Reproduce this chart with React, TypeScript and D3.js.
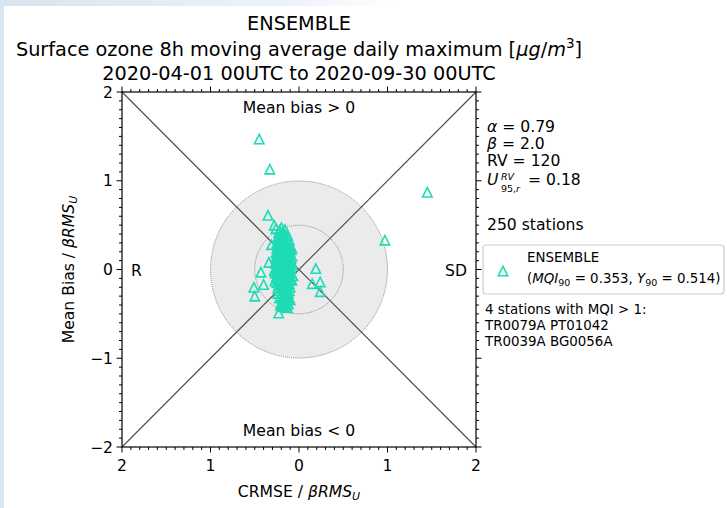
import * as d3 from "d3"

// station points: signed CRMSE / beta RMS_U (x) and mean bias / beta RMS_U (y)
const crmse = [
  -0.45, -0.33, 1.45, 0.97, -0.35, -0.28, -0.26, -0.18, -0.08, -0.31, -0.34, -0.43, -0.51, -0.5, -0.4,
  0.19, 0.15, 0.24, 0.24, -0.23, -0.15, -0.18,
  -0.2, -0.16,
  -0.23, -0.18, -0.13,
  -0.24, -0.19, -0.15, -0.11,
  -0.25, -0.2, -0.16, -0.11,
  -0.25, -0.22, -0.17, -0.12, -0.09,
  -0.26, -0.23, -0.18, -0.14, -0.1,
  -0.26, -0.23, -0.19, -0.16, -0.12, -0.09,
  -0.27, -0.24, -0.2, -0.17, -0.14, -0.1,
  -0.26, -0.23, -0.19, -0.16, -0.12, -0.09,
  -0.27, -0.24, -0.2, -0.17, -0.14, -0.1,
  -0.26, -0.23, -0.19, -0.16, -0.12, -0.1,
  -0.25, -0.21, -0.18, -0.15, -0.11,
  -0.24, -0.2, -0.17, -0.14, -0.1,
  -0.24, -0.19, -0.16, -0.12,
  -0.22, -0.18, -0.15, -0.11,
  -0.2, -0.16, -0.12,
  -0.18, -0.13,
  -0.22, -0.18,
  -0.21, -0.17, -0.13,
  -0.22, -0.18, -0.14,
  -0.24, -0.19, -0.14, -0.1,
  -0.24, -0.2, -0.16, -0.11,
  -0.25, -0.21, -0.17, -0.13, -0.08,
  -0.25, -0.21, -0.18, -0.15, -0.11,
  -0.25, -0.22, -0.18, -0.15, -0.11, -0.07,
  -0.28, -0.25, -0.21, -0.18, -0.15, -0.11,
  -0.25, -0.22, -0.18, -0.15, -0.11, -0.07,
  -0.27, -0.23, -0.2, -0.16, -0.13, -0.08,
  -0.23, -0.19, -0.15, -0.12,
  -0.22, -0.18, -0.14, -0.11,
  -0.21, -0.17, -0.13,
  -0.19, -0.14, -0.1,
  -0.21, -0.15,
]
const bias = [
  1.47, 1.13, 0.87, 0.33, 0.61, 0.5, 0.46, 0.42, 0.24, 0.28, 0.08, -0.03, -0.2, -0.3, -0.17,
  0.01, -0.16, -0.14, -0.25, -0.49, -0.41, -0.38,
  0.47, 0.45,
  0.41, 0.4, 0.39,
  0.36, 0.35, 0.34, 0.33,
  0.3, 0.29, 0.31, 0.28,
  0.24, 0.25, 0.23, 0.24, 0.22,
  0.19, 0.18, 0.2, 0.17, 0.18,
  0.13, 0.12, 0.14, 0.11, 0.13, 0.12,
  0.07, 0.08, 0.06, 0.07, 0.05, 0.07,
  0.02, 0.01, 0.03, 0.0, 0.02, 0.01,
  -0.04, -0.03, -0.05, -0.04, -0.02, -0.04,
  -0.1, -0.09, -0.11, -0.1, -0.08, -0.1,
  -0.15, -0.16, -0.14, -0.15, -0.16,
  -0.21, -0.2, -0.22, -0.21, -0.2,
  -0.27, -0.26, -0.28, -0.27,
  -0.32, -0.33, -0.31, -0.32,
  -0.38, -0.37, -0.39,
  -0.42, -0.43,
  0.44, 0.43,
  0.38, 0.37, 0.38,
  0.33, 0.32, 0.33,
  0.27, 0.26, 0.27, 0.26,
  0.21, 0.22, 0.2, 0.21,
  0.16, 0.15, 0.16, 0.17, 0.15,
  0.1, 0.09, 0.1, 0.11, 0.09,
  0.04, 0.05, 0.04, 0.03, 0.04, 0.05,
  -0.01, -0.02, 0.0, -0.01, -0.02, -0.01,
  -0.07, -0.06, -0.07, -0.08, -0.06, -0.07,
  -0.13, -0.12, -0.13, -0.12, -0.13, -0.12,
  -0.18, -0.19, -0.18, -0.17,
  -0.24, -0.23, -0.25, -0.24,
  -0.3, -0.29, -0.3,
  -0.35, -0.36, -0.34,
  -0.4, -0.41,
]

const majorTicks = [-2, -1, 0, 1, 2]
const infoLabels = ["α = 0.79", "β = 2.0", "RV = 120"]
const failedStations = ["TR0079A PT01042", "TR0039A BG0056A"]

const W = 727
const H = 508
const FONT = "DejaVu Sans"
const TEAL = "#1edbb4"
const FS = 15.6

const x = d3.scaleLinear().domain([-2, 2]).range([122, 476])
const y = d3.scaleLinear().domain([-2, 2]).range([447, 92])
const minorTicks = d3.range(-20, 21).map((d) => d / 10)

function tri(cx: number, cy: number, h = 4.7) {
  return `M${cx},${cy - h}L${cx - h},${cy + h}L${cx + h},${cy + h}Z`
}

export default function App() {
  const r1 = x(1) - x(0)
  const r05 = x(0.5) - x(0)
  return (
    <svg width={W} height={H} style={{ position: "absolute", left: 0, top: 0 }} fontFamily={FONT}>
      <defs>
        <linearGradient id="topfade" x1="0" y1="0" x2="1" y2="0">
          <stop offset="0%" stopColor="#d6e4f1" />
          <stop offset="40%" stopColor="#eef3f9" />
          <stop offset="55%" stopColor="#ffffff" />
        </linearGradient>
      </defs>
      <rect width={W} height={H} fill="url(#topfade)" />
      <rect x={0} y={0} width={4} height={H} fill="#dae6f2" />
      <rect x={4} y={6} width={W - 4} height={H - 6} fill="#fff" />

      {/* titles */}
      <g textAnchor="middle" fill="#000" fontSize={19.3}>
        <text x={299} y={30}>ENSEMBLE</text>
        <text x={299} y={56}>
          Surface ozone 8h moving average daily maximum [<tspan fontStyle="italic">μg</tspan>/<tspan fontStyle="italic">m</tspan>
          <tspan dy={-8} fontSize={13.5}>3</tspan>
          <tspan dy={8}>]</tspan>
        </text>
        <text x={299} y={80}>2020-04-01 00UTC to 2020-09-30 00UTC</text>
      </g>

      {/* target disk and circles */}
      <circle cx={x(0)} cy={y(0)} r={r1} fill="#ebebeb" stroke="#888" strokeWidth={1} strokeDasharray="1,1" />
      <circle cx={x(0)} cy={y(0)} r={r05} fill="none" stroke="#888" strokeWidth={1} strokeDasharray="1,1" />

      {/* diagonals */}
      <line x1={x(-2)} y1={y(2)} x2={x(2)} y2={y(-2)} stroke="#4a4a4a" strokeWidth={1.1} />
      <line x1={x(-2)} y1={y(-2)} x2={x(2)} y2={y(2)} stroke="#4a4a4a" strokeWidth={1.1} />

      {/* region labels */}
      <g fontSize={FS} fill="#000">
        <text x={x(0)} y={y(0) - 157} textAnchor="middle">Mean bias &gt; 0</text>
        <text x={x(0)} y={y(0) + 166} textAnchor="middle">Mean bias &lt; 0</text>
        <text x={131} y={y(0) + 6}>R</text>
        <text x={467} y={y(0) + 6} textAnchor="end">SD</text>
      </g>

      {/* points */}
      <g fill="none" stroke={TEAL} strokeWidth={1.6}>
        {crmse.map((d, i) => (
          <path key={i} d={tri(x(d), y(bias[i]))} />
        ))}
      </g>

      {/* frame */}
      <rect x={x(-2)} y={y(2)} width={x(2) - x(-2)} height={y(-2) - y(2)} fill="none" stroke="#000" strokeWidth={1.2} />

      {/* ticks */}
      <g stroke="#000" strokeWidth={1}>
        {minorTicks.map((t) => {
          const len = majorTicks.includes(t) ? 5.5 : 3
          return (
            <g key={t}>
              <line x1={x(t)} x2={x(t)} y1={y(-2)} y2={y(-2) + len} />
              <line x1={x(t)} x2={x(t)} y1={y(2)} y2={y(2) - len} />
              <line y1={y(t)} y2={y(t)} x1={x(-2)} x2={x(-2) - len} />
              <line y1={y(t)} y2={y(t)} x1={x(2)} x2={x(2) + len} />
            </g>
          )
        })}
      </g>
      <g fontSize={FS} fill="#000">
        {majorTicks.map((t) => (
          <text key={"x" + t} x={x(t)} y={y(-2) + 24} textAnchor="middle">
            {Math.abs(t)}
          </text>
        ))}
        {majorTicks.map((t) => (
          <text key={"y" + t} x={x(-2) - 9} y={y(t) + 5.5} textAnchor="end">
            {t < 0 ? "−" + Math.abs(t) : t}
          </text>
        ))}
      </g>

      {/* axis labels */}
      <text x={299} y={497} textAnchor="middle" fontSize={FS}>
        CRMSE / <tspan fontStyle="italic">βRMS</tspan>
        <tspan fontStyle="italic" fontSize={11} dy={3}>U</tspan>
      </text>
      <text transform={`translate(74,${y(0)}) rotate(-90)`} textAnchor="middle" fontSize={FS}>
        Mean Bias / <tspan fontStyle="italic">βRMS</tspan>
        <tspan fontStyle="italic" fontSize={11} dy={3}>U</tspan>
      </text>

      {/* info block */}
      <g fontSize={FS} fill="#000">
        {infoLabels.map((s, i) => (
          <text key={s} x={487} y={132 + i * 17}>
            {s.startsWith("RV") ? s : (
              <>
                <tspan fontStyle="italic">{s[0]}</tspan>
                {s.slice(1)}
              </>
            )}
          </text>
        ))}
        <text x={487} y={185} fontStyle="italic">U</text>
        <text x={501} y={179.5} fontStyle="italic" fontSize={9.5}>RV</text>
        <text x={501} y={192} fontSize={9.5}>95,<tspan fontStyle="italic">r</tspan></text>
        <text x={528} y={185}>= 0.18</text>
        <text x={487} y={230}>250 stations</text>
      </g>

      {/* legend */}
      <rect x={483} y={245} width={241} height={49} rx={3} fill="#fff" fillOpacity={0.8} stroke="#ccc" strokeWidth={1.2} />
      <path d={tri(503, 271)} fill="none" stroke={TEAL} strokeWidth={1.6} />
      <g fontSize={13.4} fill="#000">
        <text x={527} y={262}>ENSEMBLE</text>
        <text x={527} y={283}>
          (<tspan fontStyle="italic">MQI</tspan>
          <tspan fontSize={9.5} dy={3}>90</tspan>
          <tspan dy={-3}> = 0.353, </tspan>
          <tspan fontStyle="italic">Y</tspan>
          <tspan fontSize={9.5} dy={3}>90</tspan>
          <tspan dy={-3}> = 0.514)</tspan>
        </text>
      </g>

      {/* stations exceeding MQI */}
      <g fontSize={13.4} fill="#000">
        <text x={485} y={314}>4 stations with MQI &gt; 1:</text>
        {failedStations.map((s, i) => (
          <text key={s} x={485} y={330 + i * 16}>{s}</text>
        ))}
      </g>
    </svg>
  )
}
